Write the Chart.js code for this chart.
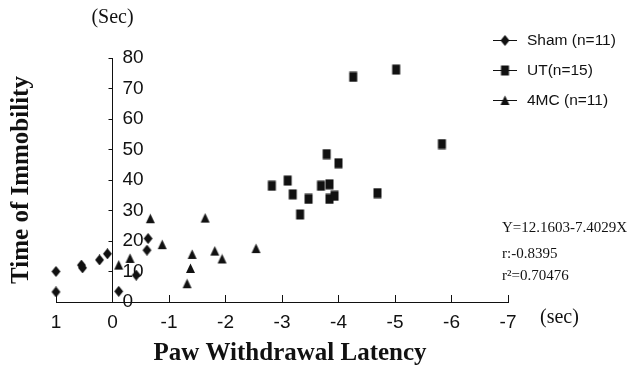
<!DOCTYPE html>
<html>
<head>
<meta charset="utf-8">
<script src="https://cdn.jsdelivr.net/npm/chart.js@4.4.0/dist/chart.umd.min.js"></script>
<style>
  html, body { margin: 0; padding: 0; background: #fff; }
  #wrap { width: 630px; height: 366px; }
</style>
</head>
<body>
<div id="wrap"><canvas id="grafica"></canvas></div>
<script>
/* ===============================
   DATOS
=============================== */
const shamLatency    = [1.0, 1.0, 0.55, 0.53, 0.23, 0.09, -0.11, -0.42, -0.63, -0.61];
const shamImmobility = [10.0, 3.3, 12.1, 11.2, 13.8, 15.8, 3.5, 8.8, 20.8, 17.0];

const utLatency    = [-3.79, -4.0, -2.82, -3.10, -3.19, -3.47, -3.32, -3.69, -3.84, -3.84, -3.93, -4.69, -4.26, -5.02, -5.83];
const utImmobility = [48.5, 45.5, 38.1, 39.8, 35.3, 33.8, 28.7, 38.1, 38.6, 33.8, 34.8, 35.7, 73.8, 76.2, 51.8];

const mcLatency    = [-0.11, -0.31, -0.67, -0.88, -1.64, -1.41, -1.38, -1.32, -1.81, -1.94, -2.54];
const mcImmobility = [12.1, 14.3, 27.3, 18.8, 27.5, 15.6, 11.0, 6.0, 16.7, 14.1, 17.5];

const seriesLabels = ["Sham (n=11)", "UT(n=15)", "4MC (n=11)"];
const xTicks = [1, 0, -1, -2, -3, -4, -5, -6, -7];
const yTicks = [0, 10, 20, 30, 40, 50, 60, 70, 80];
const regression = ["Y=12.1603-7.4029X", "r:-0.8395", "r\u00B2=0.70476"];

const INK = "#111";
const SANS = "'Liberation Sans', Arial, sans-serif";
const SERIF = "'Liberation Serif', 'Times New Roman', serif";

/* ===============================
   MARCADORES
=============================== */
function marcador(tipo) {
  const c = document.createElement("canvas");
  c.width = 11; c.height = 11;
  const g = c.getContext("2d");
  g.fillStyle = INK;
  g.beginPath();
  if (tipo === "diamante") {
    g.moveTo(5.5, 0); g.lineTo(10, 5.5); g.lineTo(5.5, 11); g.lineTo(1, 5.5);
  } else if (tipo === "cuadro") {
    g.rect(1.5, 0.5, 8, 10);
  } else {
    g.moveTo(5.5, 0.5); g.lineTo(10, 10); g.lineTo(1, 10);
  }
  g.closePath();
  g.fill();
  return c;
}

function puntos(xs, ys) {
  return xs.map((x, i) => ({ x, y: ys[i] }));
}

const estilos = [marcador("diamante"), marcador("cuadro"), marcador("triangulo")];

/* ===============================
   PLUGIN: eje Y en x=0, textos y leyenda
=============================== */
const textosPlugin = {
  id: "textos",
  afterLayout(chart) {
    // mover el eje Y a x = 0
    chart.scales.y.right = chart.scales.x.getPixelForValue(0);
  },
  afterDraw(chart) {
    const ctx = chart.ctx;
    const area = chart.chartArea;
    ctx.save();
    ctx.fillStyle = INK;
    ctx.strokeStyle = INK;
    ctx.textBaseline = "middle";

    ctx.font = "20px " + SERIF;
    ctx.textAlign = "center";
    ctx.fillText("(Sec)", chart.scales.x.getPixelForValue(0), 18);
    ctx.textAlign = "left";
    ctx.fillText("(sec)", area.right + 32, 318);

    ctx.font = "bold 25px " + SERIF;
    ctx.textAlign = "center";
    ctx.fillText("Paw Withdrawal Latency", 290, 354);

    ctx.font = "15px " + SERIF;
    ctx.textAlign = "left";
    regression.forEach((t, i) => ctx.fillText(t, 502, [228, 254, 276][i]));

    // leyenda
    ctx.font = "15.5px " + SANS;
    chart.data.datasets.forEach((ds, i) => {
      const yy = 40 + i * 30;
      ctx.lineWidth = 1;
      ctx.beginPath();
      ctx.moveTo(493, yy + 0.5);
      ctx.lineTo(517, yy + 0.5);
      ctx.stroke();
      const img = ds.pointStyle;
      ctx.drawImage(img, 505 - img.width / 2, yy - img.height / 2 + 0.5);
      ctx.fillText(ds.label, 527, yy + 1);
    });
    ctx.restore();
  }
};

/* ===============================
   GRÁFICA
=============================== */
const series = [
  puntos(shamLatency, shamImmobility),
  puntos(utLatency, utImmobility),
  puntos(mcLatency, mcImmobility),
];

new Chart(document.getElementById("grafica"), {
  type: "scatter",
  data: {
    datasets: series.map((data, i) => ({
      label: seriesLabels[i],
      data,
      pointStyle: estilos[i],
      pointRadius: 5,
      backgroundColor: INK,
      borderColor: INK,
      clip: false,
    })),
  },
  options: {
    responsive: true,
    maintainAspectRatio: false,
    animation: false,
    layout: { padding: { left: 6, right: 122, top: 58, bottom: 0 } },
    plugins: { legend: { display: false }, tooltip: { enabled: false } },
    scales: {
      x: {
        type: "linear",
        position: "bottom",
        reverse: true,
        min: Math.min(...xTicks),
        max: Math.max(...xTicks),
        afterFit: s => { s.height = 64; },
        ticks: { stepSize: 1, padding: 16, color: INK, font: { family: SANS, size: 19 } },
        grid: { drawOnChartArea: false, tickLength: -7, color: INK },
        border: { color: INK, width: 1 },
      },
      y: {
        position: "left",
        min: Math.min(...yTicks),
        max: Math.max(...yTicks),
        afterFit: s => { s.width = 50; },
        ticks: { stepSize: 10, mirror: true, padding: 10, color: INK, font: { family: SANS, size: 19 } },
        grid: { drawOnChartArea: false, tickLength: 4, color: INK },
        border: { color: INK, width: 1 },
        title: {
          display: true,
          text: "Time of Immobility",
          color: INK,
          font: { family: SERIF, size: 25, weight: "bold" },
          padding: { top: 1, bottom: 0 },
        },
      },
    },
  },
  plugins: [textosPlugin],
});
</script>
</body>
</html>
